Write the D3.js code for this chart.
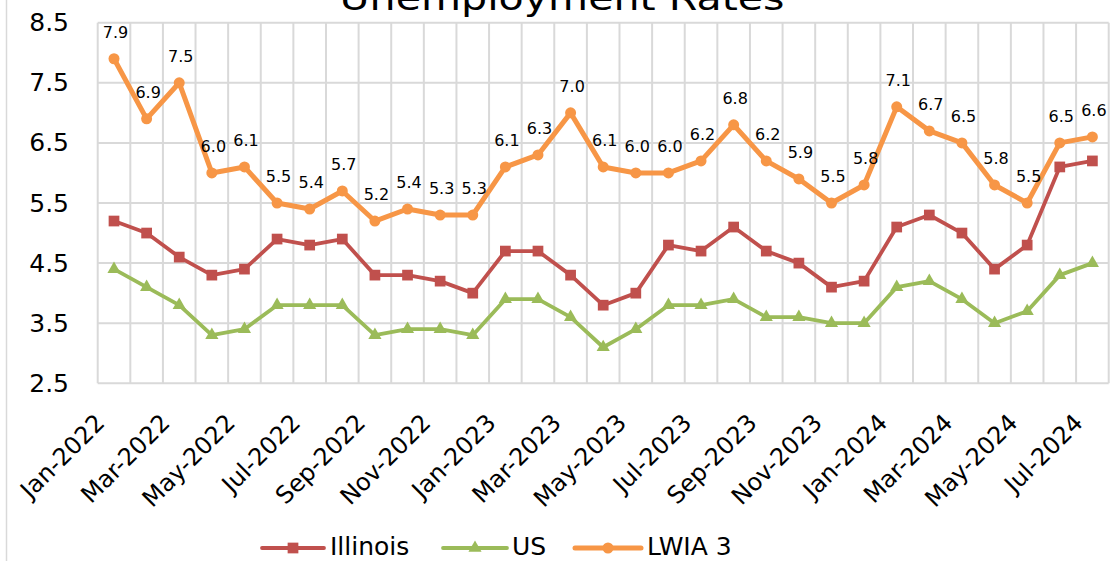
<!DOCTYPE html>
<html>
<head>
<meta charset="utf-8">
<script src="https://cdn.jsdelivr.net/npm/d3@7"></script>
<style>
  html, body { margin: 0; padding: 0; background: #ffffff; }
  svg { display: block; font-family: "DejaVu Sans", sans-serif; }
</style>
</head>
<body>
<svg id="chart" width="1117" height="561"></svg>
<script>
const months = ["Jan-2022","Feb-2022","Mar-2022","Apr-2022","May-2022","Jun-2022","Jul-2022","Aug-2022","Sep-2022","Oct-2022","Nov-2022","Dec-2022",
  "Jan-2023","Feb-2023","Mar-2023","Apr-2023","May-2023","Jun-2023","Jul-2023","Aug-2023","Sep-2023","Oct-2023","Nov-2023","Dec-2023",
  "Jan-2024","Feb-2024","Mar-2024","Apr-2024","May-2024","Jun-2024","Jul-2024"];
const illinois = [5.2,5.0,4.6,4.3,4.4,4.9,4.8,4.9,4.3,4.3,4.2,4.0,4.7,4.7,4.3,3.8,4.0,4.8,4.7,5.1,4.7,4.5,4.1,4.2,5.1,5.3,5.0,4.4,4.8,6.1,6.2];
const us = [4.4,4.1,3.8,3.3,3.4,3.8,3.8,3.8,3.3,3.4,3.4,3.3,3.9,3.9,3.6,3.1,3.4,3.8,3.8,3.9,3.6,3.6,3.5,3.5,4.1,4.2,3.9,3.5,3.7,4.3,4.5];
const lwia3 = [7.9,6.9,7.5,6.0,6.1,5.5,5.4,5.7,5.2,5.4,5.3,5.3,6.1,6.3,7.0,6.1,6.0,6.0,6.2,6.8,6.2,5.9,5.5,5.8,7.1,6.7,6.5,5.8,5.5,6.5,6.6];
const yTicks = [2.5,3.5,4.5,5.5,6.5,7.5,8.5];
const xTickLabels = ["Jan-2022","Mar-2022","May-2022","Jul-2022","Sep-2022","Nov-2022","Jan-2023","Mar-2023","May-2023","Jul-2023","Sep-2023","Nov-2023","Jan-2024","Mar-2024","May-2024","Jul-2024"];
const seriesNames = ["Illinois","US","LWIA 3"];
const title = "Unemployment Rates";

const svg = d3.select("#chart");
const grid = "#d9d9d9";
const pLeft = 97.7, pRight = 1108.7, pTop = 22.7, pBottom = 383.3;

const x = d3.scaleBand().domain(months).range([pLeft, pRight]).paddingInner(0).paddingOuter(0);
const y = d3.scaleLinear().domain([2.5, 8.5]).range([pBottom, pTop]);
const cx = m => x(m) + x.bandwidth() / 2;

svg.append("rect").attr("width", 1117).attr("height", 561).attr("fill", "#fff");
svg.append("line").attr("x1", 6.5).attr("x2", 6.5).attr("y1", 0).attr("y2", 561)
  .attr("stroke", grid).attr("stroke-width", 1.5);

// title (cut at the top edge, as in the reference)
svg.append("text").attr("x", 562).attr("y", 9.5).attr("text-anchor", "middle")
  .attr("font-size", 34).attr("textLength", 445).attr("lengthAdjust", "spacingAndGlyphs")
  .attr("fill", "#000").text(title);

// gridlines
const g = svg.append("g");
g.selectAll("line.h").data(yTicks).join("line").attr("class", "h")
  .attr("x1", pLeft).attr("x2", pRight).attr("y1", d => y(d)).attr("y2", d => y(d))
  .attr("stroke", grid).attr("stroke-width", 2);
const edges = months.map(m => x(m)).concat([pRight]);
g.selectAll("line.v").data(edges).join("line").attr("class", "v")
  .attr("x1", d => d).attr("x2", d => d).attr("y1", pTop).attr("y2", pBottom)
  .attr("stroke", grid).attr("stroke-width", 2);

// y axis
const yAxis = svg.append("g").attr("transform", `translate(${pLeft},0)`)
  .call(d3.axisLeft(y).tickValues(yTicks).tickSize(0).tickPadding(28.7).tickFormat(d3.format(".1f")));
yAxis.select(".domain").remove();
yAxis.selectAll("text").attr("font-size", 25).attr("fill", "#000").attr("font-family", "DejaVu Sans");

// x axis
const xAxis = svg.append("g").attr("transform", `translate(0,${pBottom})`)
  .call(d3.axisBottom(x).tickValues(xTickLabels).tickSize(0));
xAxis.select(".domain").remove();
xAxis.selectAll("text").attr("font-size", 24).attr("fill", "#000").attr("font-family", "DejaVu Sans")
  .attr("text-anchor", "end").attr("x", 0).attr("y", 0).attr("dy", 0)
  .attr("transform", "translate(-8,41) rotate(-45)");

// series
const series = [
  {name: seriesNames[0], values: illinois, color: "#C0504D", width: 3.8, symbol: d3.symbolSquare, size: 115},
  {name: seriesNames[1], values: us, color: "#9BBB59", width: 3.8, symbol: d3.symbolTriangle, size: 75},
  {name: seriesNames[2], values: lwia3, color: "#F79646", width: 5, symbol: d3.symbolCircle, size: 95}
];
const line = d3.line().x((d, i) => cx(months[i])).y(d => y(d));
series.forEach(s => {
  svg.append("path").datum(s.values).attr("d", line).attr("fill", "none")
    .attr("stroke", s.color).attr("stroke-width", s.width).attr("stroke-linejoin", "round");
  svg.append("g").selectAll("path").data(s.values).join("path")
    .attr("d", d3.symbol().type(s.symbol).size(s.size))
    .attr("transform", (d, i) => `translate(${cx(months[i])},${y(d)})`)
    .attr("fill", s.color);
});

// data labels for LWIA 3
svg.append("g").selectAll("text").data(lwia3).join("text")
  .attr("x", (d, i) => cx(months[i]) + 1.5).attr("y", d => y(d) - 21)
  .attr("text-anchor", "middle").attr("font-size", 16).attr("fill", "#000")
  .text(d => d3.format(".1f")(d));

// legend
const legendItems = [
  {x0: 262, x1: 324, tx: 330},
  {x0: 443, x1: 507, tx: 512},
  {x0: 575, x1: 641, tx: 647}
];
const lg = svg.append("g");
series.forEach((s, i) => {
  const it = legendItems[i];
  lg.append("line").attr("x1", it.x0).attr("x2", it.x1).attr("y1", 548).attr("y2", 548)
    .attr("stroke", s.color).attr("stroke-width", s.width).attr("stroke-linecap", "round");
  lg.append("path").attr("d", d3.symbol().type(s.symbol).size(s.size))
    .attr("transform", `translate(${(it.x0 + it.x1) / 2},548)`).attr("fill", s.color);
  lg.append("text").attr("x", it.tx).attr("y", 555).attr("font-size", 25).attr("fill", "#000").text(s.name);
});
</script>
</body>
</html>
